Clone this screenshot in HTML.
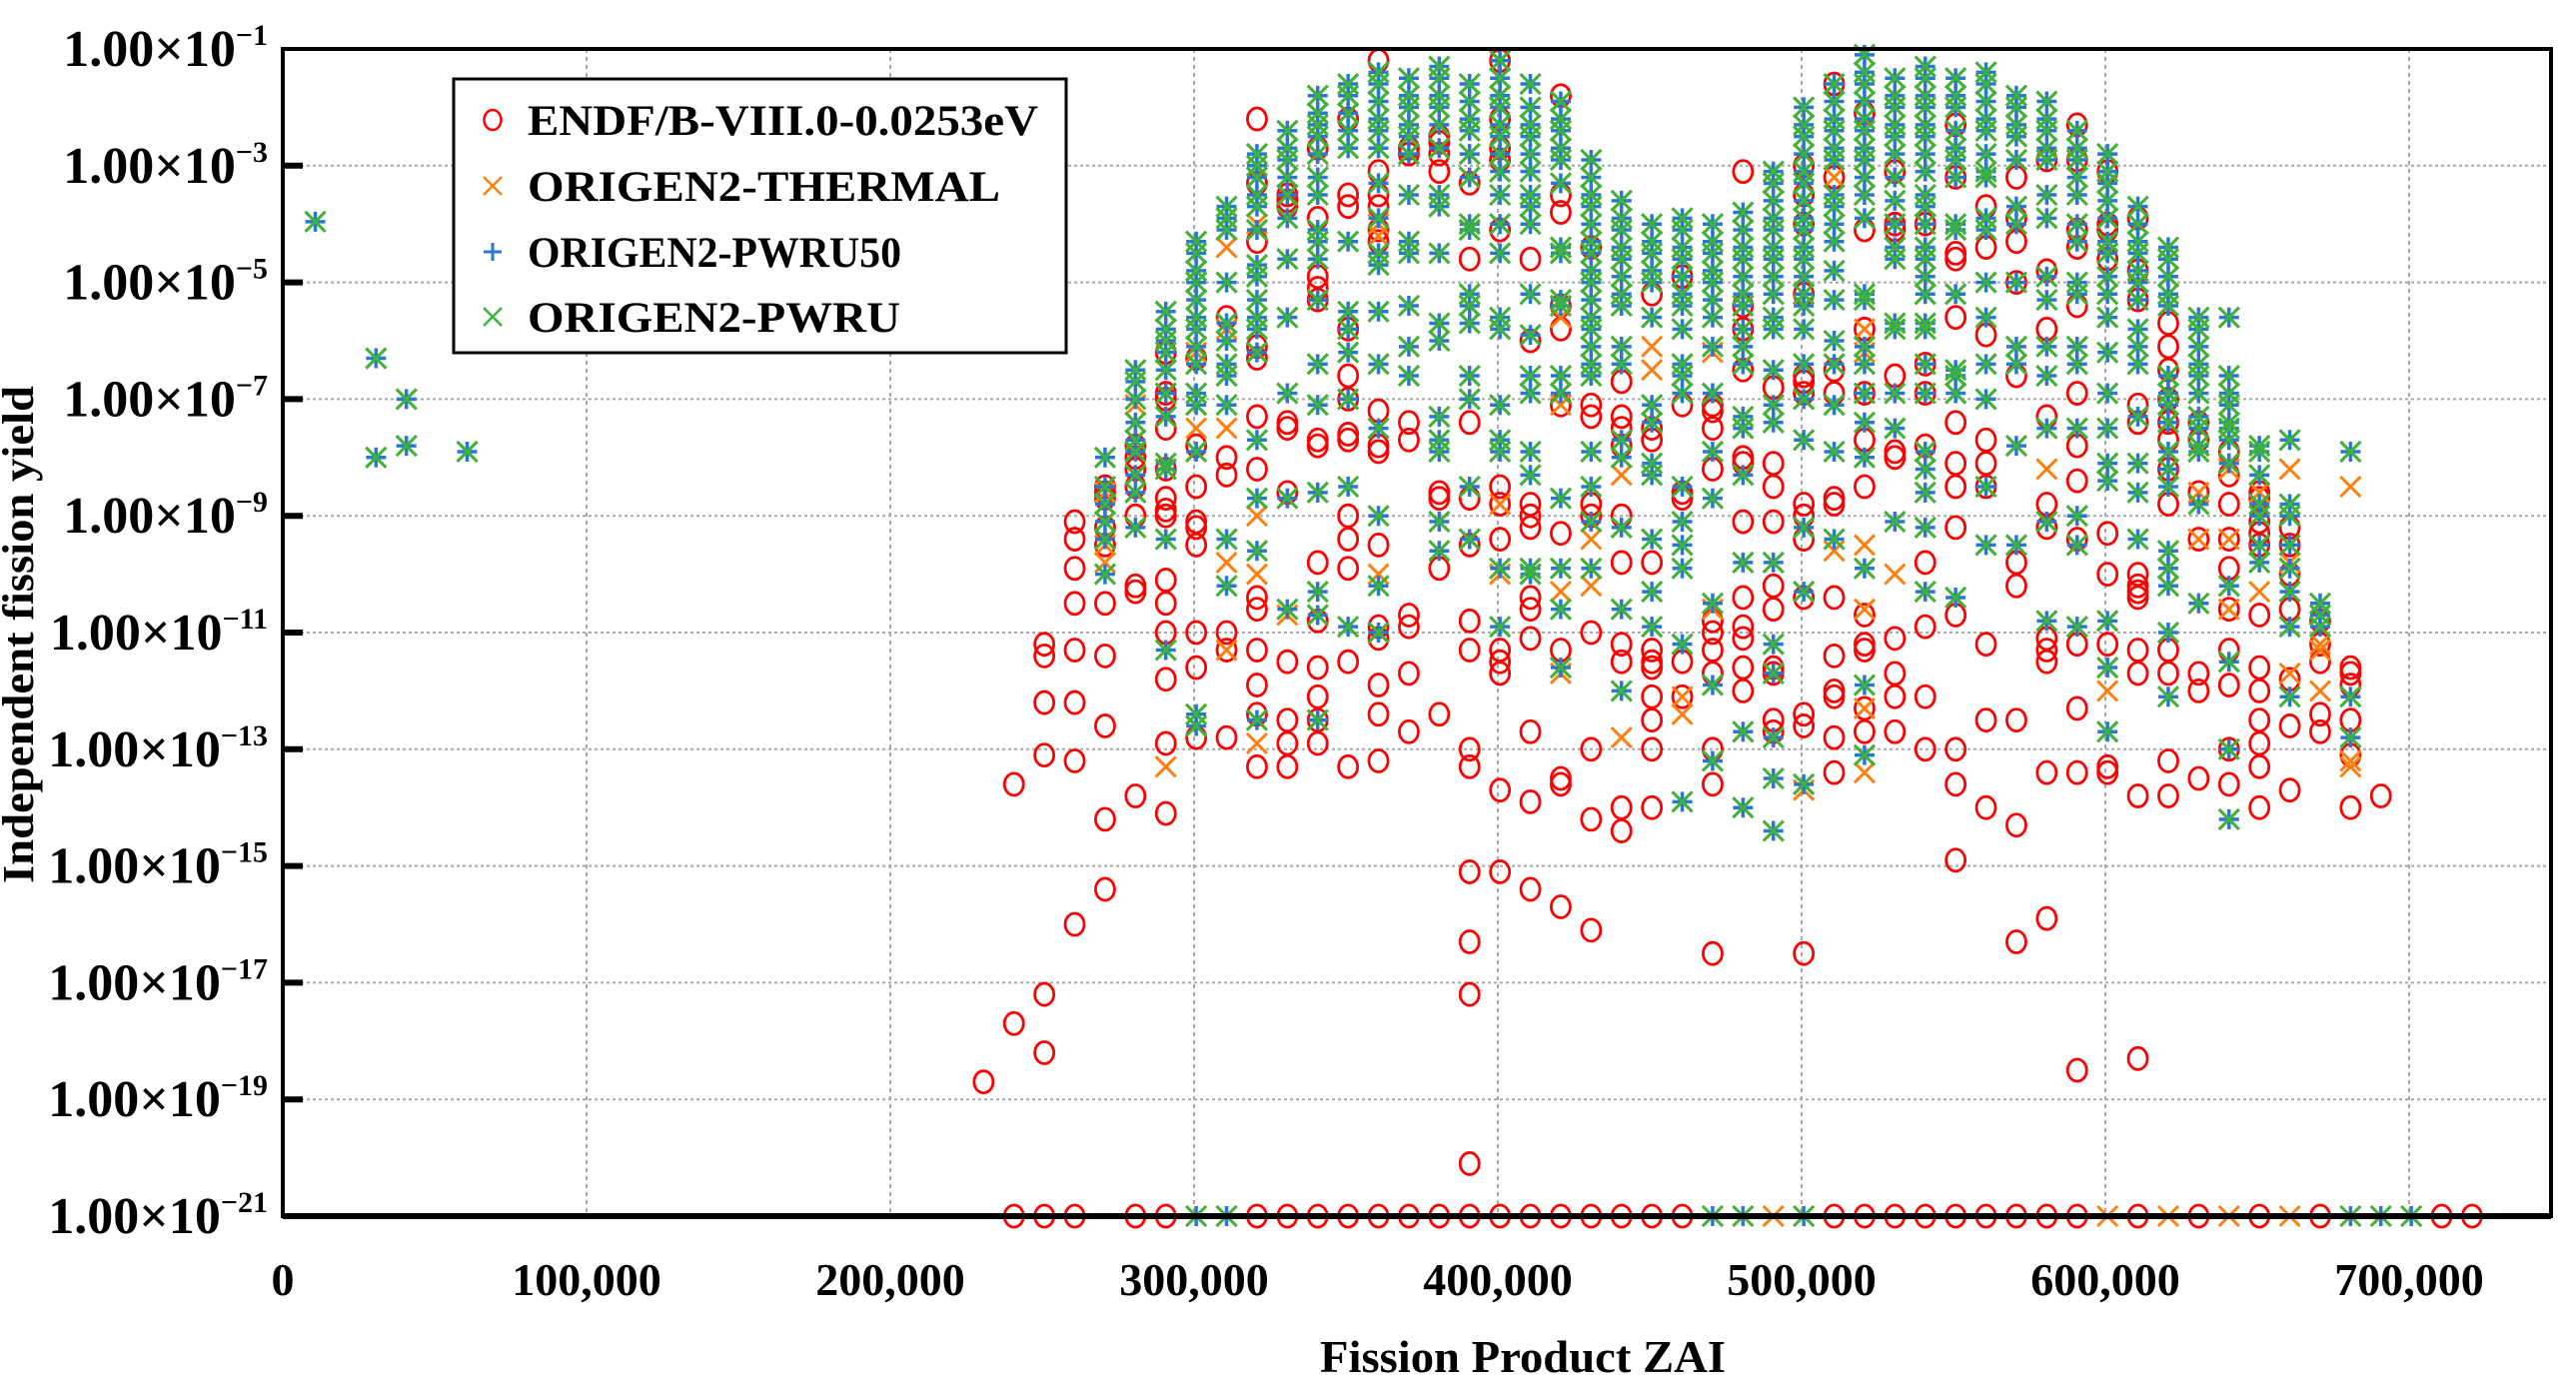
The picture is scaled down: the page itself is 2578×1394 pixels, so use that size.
<!DOCTYPE html>
<html><head><meta charset="utf-8"><title>Independent fission yield</title>
<style>
html,body{margin:0;padding:0;background:#fff;}
svg{display:block;}
text{font-family:"Liberation Serif","Times New Roman",serif;font-weight:bold;fill:#000;}
</style></head>
<body>
<svg id="chart" width="2578" height="1394" viewBox="0 0 2578 1394" xmlns="http://www.w3.org/2000/svg">
<rect x="0" y="0" width="2578" height="1394" fill="#fff"/>
<g id="grid"></g>
<g id="marks"></g>
<rect x="283" y="49" width="2270" height="1168" fill="none" stroke="#000" stroke-width="4"/>
<g id="axes"></g>
<text x="33" y="635" font-size="44" text-anchor="middle" transform="rotate(-90 33 635)" textLength="498" lengthAdjust="spacingAndGlyphs">Independent fission yield</text>
<text x="1524" y="1373" font-size="46" text-anchor="middle" textLength="406" lengthAdjust="spacingAndGlyphs">Fission Product ZAI</text>
<g>
  <rect x="454" y="79" width="613" height="274" fill="#fff" stroke="#000" stroke-width="3"/>
  <g>
    <ellipse cx="493" cy="120" rx="8.5" ry="10" fill="none" stroke="#ff0000" stroke-width="2.5"/>
    <text x="528" y="135" font-size="43" textLength="511" lengthAdjust="spacingAndGlyphs">ENDF/B-VIII.0-0.0253eV</text>
  </g>
  <g>
    <path d="M484,177 L502,195 M502,177 L484,195" stroke="#ff7f0e" stroke-width="2.5"/>
    <text x="528" y="201" font-size="43" textLength="473" lengthAdjust="spacingAndGlyphs">ORIGEN2-THERMAL</text>
  </g>
  <g>
    <path d="M484,252 L502,252 M493,243 L493,261" stroke="#2a78d0" stroke-width="3"/>
    <text x="528" y="267" font-size="43" textLength="374" lengthAdjust="spacingAndGlyphs">ORIGEN2-PWRU50</text>
  </g>
  <g>
    <path d="M484,308 L502,326 M502,308 L484,326" stroke="#3cb43c" stroke-width="2.5"/>
    <text x="528" y="332" font-size="43" textLength="373" lengthAdjust="spacingAndGlyphs">ORIGEN2-PWRU</text>
  </g>
</g>
</svg>
<script>
// ---- data (log10 of independent fission yield; -21 = zero/floor) ----
const xTickValues = [0,100000,200000,300000,400000,500000,600000,700000];
const xTickLabels = ["0","100,000","200,000","300,000","400,000","500,000","600,000","700,000"];
const yTickExps = [-1,-3,-5,-7,-9,-11,-13,-15,-17,-19,-21];
const zCols = [1,3,4,6,23,24,25,26,27,28,29,30,31,32,33,34,35,36,37,38,39,40,41,42,43,44,45,46,47,48,49,50,51,52,53,54,55,56,57,58,59,60,61,62,63,64,65,66,67,68,69,70,71,72];
const endfLog = [
[],[],[],[],
[-18.7],
[-13.6,-17.7,-21],
[-11.2,-11.4,-12.2,-13.1,-17.2,-18.2,-21],
[-9.1,-9.4,-9.9,-10.5,-11.3,-12.2,-13.2,-16.0,-21],
[-8.5,-8.6,-8.7,-9.2,-9.5,-10.5,-11.4,-12.6,-14.2,-15.4],
[-7.8,-8.0,-8.2,-8.5,-9.0,-10.2,-10.3,-13.8,-21],
[-6.2,-6.9,-7.0,-7.5,-8.2,-8.7,-8.9,-9.0,-10.1,-10.5,-11.0,-11.8,-12.9,-14.1,-21],
[-6.3,-7.8,-8.5,-9.1,-9.2,-9.5,-11.0,-11.6,-12.8],
[-5.6,-8.0,-8.3,-11.0,-11.3,-12.8],
[-2.2,-3.3,-4.3,-6.1,-6.3,-7.3,-8.2,-10.4,-10.6,-11.3,-11.9,-12.4,-13.3,-21],
[-3.5,-3.6,-3.7,-7.4,-7.5,-8.6,-11.5,-12.5,-12.9,-13.3,-21],
[-2.7,-3.9,-4.9,-5.1,-5.3,-7.7,-7.8,-9.8,-10.8,-11.6,-12.1,-12.5,-12.9,-21],
[-2.2,-3.5,-3.7,-5.8,-6.6,-7.0,-7.6,-7.7,-9.0,-9.4,-9.9,-11.5,-13.3,-21],
[-1.2,-3.1,-3.5,-3.7,-4.1,-4.3,-7.2,-7.8,-7.9,-9.5,-10.9,-11.1,-11.9,-12.4,-13.2,-21],
[-2.7,-2.8,-7.4,-7.7,-10.7,-10.9,-11.7,-12.7,-21],
[-2.5,-2.6,-2.8,-3.1,-8.6,-8.7,-9.9,-12.4,-21],
[-3.3,-4.6,-7.4,-8.7,-9.5,-10.8,-11.3,-13.0,-13.3,-15.1,-16.3,-17.2,-20.1,-21],
[-1.2,-2.2,-2.7,-2.9,-4.1,-8.5,-8.8,-9.4,-11.3,-11.5,-11.7,-13.7,-15.1,-21],
[-4.6,-6.0,-8.8,-9.0,-9.2,-10.4,-10.6,-11.1,-12.7,-13.9,-15.4,-21],
[-1.8,-3.5,-3.8,-5.4,-5.8,-7.1,-9.3,-11.3,-13.5,-13.6,-15.7,-21],
[-4.4,-7.1,-7.3,-8.8,-9.0,-11.0,-13.0,-14.2,-16.1,-21],
[-6.7,-7.3,-7.5,-7.8,-9.0,-9.8,-11.2,-11.5,-14.0,-14.4,-21],
[-5.2,-7.5,-7.7,-9.8,-11.3,-11.5,-11.6,-12.1,-12.5,-13.0,-14.0,-21],
[-4.9,-7.1,-8.6,-8.7,-11.5,-12.1,-21],
[-7.1,-7.2,-7.5,-8.2,-10.8,-11.0,-11.3,-11.7,-13.0,-13.6,-16.5],
[-3.1,-5.4,-5.8,-6.5,-8.0,-8.1,-9.1,-10.4,-10.9,-11.1,-11.6,-12.0],
[-6.8,-8.1,-8.5,-9.1,-10.2,-10.6,-11.6,-11.7,-12.5,-12.7],
[-3.0,-3.5,-4.0,-5.2,-6.6,-6.7,-6.9,-8.8,-9.0,-9.4,-10.4,-12.4,-12.6,-16.5],
[-1.6,-3.2,-6.5,-6.9,-8.7,-8.8,-10.4,-11.4,-12.0,-12.1,-12.8,-13.4,-21],
[-2.1,-4.1,-5.8,-6.9,-7.7,-8.5,-10.7,-11.2,-11.3,-12.3,-12.7,-21],
[-3.1,-4.0,-4.1,-6.6,-7.9,-8.0,-11.1,-11.7,-12.1,-12.7,-21],
[-4.0,-6.4,-6.9,-7.8,-9.8,-10.9,-12.1,-13.0,-21],
[-2.3,-3.2,-4.5,-4.6,-5.6,-7.4,-8.1,-8.5,-9.2,-10.7,-13.0,-13.6,-14.9,-21],
[-3.7,-4.4,-5.9,-7.7,-8.1,-8.5,-11.2,-12.5,-14.0,-21],
[-3.2,-3.9,-4.3,-5.0,-6.6,-9.8,-10.2,-12.5,-14.3,-16.3,-21],
[-2.9,-4.8,-5.8,-7.3,-8.8,-9.2,-11.1,-11.3,-11.5,-13.4,-15.9,-21],
[-2.3,-2.9,-4.1,-4.4,-5.4,-6.9,-7.8,-8.4,-9.4,-11.2,-12.3,-13.4,-18.5,-21],
[-3.1,-4.0,-4.1,-4.6,-9.3,-10.0,-11.2,-13.3,-13.4],
[-3.9,-4.8,-5.3,-7.1,-7.4,-10.0,-10.2,-10.3,-10.4,-11.3,-11.7,-13.8,-18.3,-21],
[-5.7,-6.1,-6.5,-7.0,-7.4,-7.7,-8.2,-8.8,-11.3,-11.7,-13.2,-13.8],
[-7.4,-7.7,-8.6,-9.4,-11.7,-12.0,-13.5,-21],
[-7.9,-8.3,-8.8,-9.4,-9.9,-10.6,-11.3,-11.9,-13.0,-13.6],
[-8.6,-8.7,-9.1,-9.3,-9.5,-10.7,-11.6,-12.0,-12.5,-12.9,-13.3,-14.0,-21],
[-9.2,-9.5,-10.0,-10.6,-11.8,-12.6,-13.7],
[-10.8,-11.2,-11.5,-12.4,-12.7,-21],
[-11.6,-11.7,-11.9,-12.5,-13.1,-14.0],
[-13.8],
[],
[-21],
[-21]
];
const pwru50Log = [
[-3.96],[-6.3,-8.0],[-7.0,-7.8],[-7.9],
[],[],[],[],
[-8.0,-8.5,-8.8,-9.1,-9.4,-10.0],
[-6.5,-6.7,-7.0,-7.4,-7.7,-7.9,-8.3,-8.6,-9.2],
[-5.5,-5.8,-6.0,-6.2,-6.5,-6.9,-7.3,-8.1,-8.2,-9.4,-11.3],
[-4.3,-4.5,-4.8,-5.0,-5.3,-5.6,-5.8,-6.1,-6.4,-6.9,-7.1,-7.9,-12.4,-12.6,-21],
[-3.7,-3.9,-4.1,-5.0,-5.7,-6.0,-6.4,-6.6,-7.1,-9.4,-10.2,-21],
[-2.8,-3.0,-3.2,-3.5,-3.7,-4.1,-4.7,-4.9,-5.3,-5.6,-5.8,-6.2,-7.7,-8.7,-9.6,-12.5],
[-2.4,-2.7,-2.9,-3.2,-3.5,-3.9,-4.6,-5.6,-6.9,-8.7,-10.6],
[-1.8,-2.1,-2.3,-2.5,-2.8,-3.2,-3.5,-4.1,-4.3,-4.6,-5.3,-6.4,-7.1,-8.6,-10.3,-10.7,-12.5],
[-1.6,-1.8,-2.1,-2.4,-2.7,-4.3,-5.5,-5.8,-6.2,-7.0,-8.5,-10.9],
[-1.4,-1.6,-1.9,-2.2,-2.4,-2.7,-3.3,-3.9,-4.5,-4.7,-5.5,-6.4,-7.5,-9.0,-10.2,-11.0],
[-1.5,-1.8,-2.0,-2.3,-2.5,-2.8,-3.5,-4.3,-4.5,-5.4,-6.1,-6.6],
[-1.3,-1.5,-1.8,-2.0,-2.3,-2.7,-3.5,-3.7,-4.5,-5.7,-6.0,-7.3,-7.7,-7.9,-9.1,-9.6],
[-1.6,-1.9,-2.2,-2.4,-2.8,-3.2,-4.0,-4.1,-5.2,-5.4,-5.7,-6.6,-7.0,-8.5,-9.4],
[-1.2,-1.5,-1.8,-2.0,-2.3,-2.5,-2.8,-3.1,-3.5,-4.0,-4.5,-5.6,-5.8,-7.1,-7.7,-7.9,-9.9,-10.9],
[-1.6,-2.0,-2.3,-2.5,-2.8,-3.1,-3.5,-3.7,-4.0,-5.2,-5.9,-6.6,-6.9,-7.9,-8.3,-9.9,-10.0],
[-1.9,-2.2,-2.4,-2.7,-2.9,-3.3,-4.4,-4.5,-5.3,-5.4,-6.6,-6.9,-8.7,-9.9,-10.6,-11.6],
[-2.9,-3.2,-3.5,-3.7,-4.0,-4.3,-4.5,-4.8,-5.0,-5.3,-5.6,-5.8,-6.1,-6.4,-6.6,-7.9,-8.5,-9.1,-9.9],
[-3.6,-3.9,-4.1,-4.4,-4.6,-4.9,-5.2,-5.4,-6.1,-6.4,-7.7,-8.0,-9.2,-10.6,-12.0],
[-4.0,-4.3,-4.5,-4.8,-5.0,-5.6,-7.1,-7.4,-8.1,-8.3,-9.4,-10.3,-10.9],
[-3.9,-4.1,-4.4,-4.6,-4.9,-5.2,-5.4,-5.8,-6.4,-6.6,-6.9,-8.5,-9.1,-9.5,-9.9,-11.2,-13.9],
[-4.0,-4.3,-4.5,-4.8,-5.0,-5.3,-5.6,-6.1,-6.9,-7.9,-8.7,-10.5,-11.9,-13.2,-21],
[-3.8,-4.1,-4.4,-4.6,-4.9,-5.2,-5.4,-5.8,-6.1,-6.4,-7.3,-7.5,-8.3,-9.8,-12.7,-14.0,-21],
[-3.1,-3.3,-3.6,-3.9,-4.1,-4.4,-4.6,-4.9,-5.2,-5.6,-5.8,-6.5,-7.1,-7.4,-9.8,-11.2,-11.7,-12.8,-13.5,-14.4],
[-2.0,-2.3,-2.5,-2.8,-3.1,-3.3,-3.6,-3.9,-4.1,-4.4,-4.6,-4.9,-5.2,-5.4,-5.8,-6.4,-7.0,-7.7,-9.2,-10.3,-13.6,-21],
[-1.6,-1.9,-2.2,-2.4,-2.7,-2.9,-3.5,-3.7,-4.0,-4.3,-4.8,-5.3,-6.0,-6.4,-7.1,-7.9,-9.4],
[-1.1,-1.4,-1.6,-1.9,-2.2,-2.4,-2.7,-2.9,-3.2,-3.5,-3.9,-5.2,-5.3,-6.1,-6.4,-6.9,-7.4,-8.0,-9.9,-11.9,-13.1],
[-1.5,-1.8,-2.0,-2.3,-2.5,-2.8,-3.2,-3.6,-4.0,-4.4,-4.6,-5.7,-5.8,-6.9,-7.5,-9.1],
[-1.3,-1.5,-1.8,-2.0,-2.3,-2.5,-2.8,-3.1,-3.5,-3.7,-4.0,-4.4,-4.6,-4.9,-5.2,-5.7,-5.8,-6.4,-6.9,-7.9,-8.2,-8.6,-9.2,-10.3],
[-1.5,-1.8,-2.0,-2.4,-2.7,-2.9,-3.2,-4.0,-4.1,-5.2,-6.5,-6.6,-6.9,-10.4],
[-1.4,-1.6,-1.9,-2.2,-2.4,-2.8,-3.1,-3.2,-3.9,-4.1,-5.0,-5.6,-6.4,-7.0,-8.5,-9.5],
[-1.8,-2.0,-2.3,-2.5,-2.9,-3.7,-4.0,-5.0,-6.1,-6.4,-7.8,-9.5],
[-1.9,-2.2,-2.4,-2.7,-2.9,-3.5,-3.9,-4.9,-5.3,-6.1,-6.6,-7.5,-9.1,-10.8],
[-2.4,-2.7,-2.9,-3.2,-3.5,-4.0,-4.3,-5.0,-5.2,-6.1,-6.4,-7.5,-9.0,-9.5,-10.9],
[-2.8,-3.1,-3.3,-3.6,-3.9,-4.3,-4.5,-4.9,-5.2,-5.6,-6.2,-6.9,-7.5,-8.1,-8.4,-10.8,-11.6,-12.7],
[-3.7,-4.0,-4.3,-4.5,-4.8,-5.0,-5.3,-5.8,-6.1,-6.4,-7.3,-8.1,-8.6,-9.4],
[-4.4,-4.6,-4.9,-5.2,-5.4,-6.6,-6.9,-7.1,-7.4,-7.9,-8.2,-8.5,-9.6,-9.9,-10.2,-11.0,-12.1],
[-5.6,-5.8,-6.1,-6.4,-6.6,-6.9,-7.3,-7.5,-7.8,-7.9,-8.8,-10.5],
[-5.6,-6.6,-6.9,-7.1,-7.4,-7.5,-7.7,-8.1,-10.2,-11.5,-13.0,-14.2],
[-7.8,-7.9,-8.3,-8.8,-9.0,-9.5,-9.8],
[-7.7,-8.8,-9.0,-9.5,-9.9,-10.3,-10.9,-12.1],
[-10.5,-10.7,-10.9],
[-7.9,-12.1,-12.8,-21],
[-21],
[-21],
[],
[]
];
// ORIGEN2-PWRU values coincide with ORIGEN2-PWRU50 on this scale
const pwruLog = pwru50Log;
// ORIGEN2-THERMAL points that differ from the PWRU libraries
const thermalExtraLog = [
[],[],[],[],[],[],[],[],
[-8.6,-8.8,-9.5,-9.8],
[-7.1,-7.9],
[-13.3],
[-6.2,-7.5,-7.9],
[-4.1,-4.4,-5.8,-7.5,-9.8,-11.3],
[-3.2,-3.5,-4.0,-5.8,-9.0,-10.0,-12.9],
[-3.5,-10.7],
[],[],
[-4.0,-4.2,-10.0],
[],[],[],
[-8.8,-10.0],
[],
[-4.4,-5.6,-7.1,-10.3,-11.7],
[-9.4,-10.2],
[-8.3,-12.8],
[-6.1,-6.5],
[-12.1,-12.4],
[-6.2,-10.6],
[],
[-21],
[-13.7],
[-3.2,-6.4,-9.6],
[-5.8,-6.2,-9.5,-10.6,-12.3,-13.4],
[-10.0],
[],[],[],[],
[-8.2],
[],
[-12.0,-21],
[],
[-9.9,-21],
[-8.6,-9.4],
[-8.2,-9.4,-10.6,-21],
[-8.6,-10.3],
[-8.2,-9.8,-9.9,-11.7,-21],
[-11.2,-11.3,-12.0],
[-8.5,-13.2,-13.3],
[],[],[],[]
];

// ---- axis functions ----
const PL=283, PR=2553, PT=49, PB=1217;
const X_MAX = 746700;
function xScale(v){ return PL + v/X_MAX*(PR-PL); }
function yScale(e){ return PT + (-1 - e)/20*(PB-PT); }
function colX(z){ return z*10000 + 700; }

const NS="http://www.w3.org/2000/svg";
function mk(tag, attrs, parent){
  const el=document.createElementNS(NS,tag);
  for(const k in attrs) el.setAttribute(k,attrs[k]);
  parent.appendChild(el); return el;
}
const grid=document.getElementById('grid');
const axes=document.getElementById('axes');
const marks=document.getElementById('marks');

yTickExps.forEach(e=>{
  const y=yScale(e);
  if(e!==-1 && e!==-21){
    const g=mk('line',{x1:PL,x2:PR,y1:y,y2:y,stroke:'#a8a8a8','stroke-width':2,'stroke-dasharray':'3,3'},grid);
    
    
    const t=mk('line',{x1:PL,x2:PL+20,y1:y,y2:y,stroke:'#000','stroke-width':6},axes);
    
    
  }
  const tx=mk('text',{x:268,y:y+17,'font-size':52,'text-anchor':'end'},axes);
  
  
  const base=document.createElementNS(NS,'tspan');
  base.textContent='1.00×10';
  tx.appendChild(base);
  const sup=document.createElementNS(NS,'tspan');
  sup.setAttribute('dy','-21'); sup.setAttribute('font-size','30');
  sup.textContent='\u2212'+(-e);
  tx.appendChild(sup);
});
xTickValues.forEach((v,i)=>{
  const x=xScale(v);
  if(v>0){
    const g=mk('line',{x1:x,x2:x,y1:PT,y2:PB,stroke:'#a8a8a8','stroke-width':2,'stroke-dasharray':'4,4'},grid);
    
    
  }
  const t=mk('text',{x:x,y:1296,'font-size':46,'text-anchor':'middle'},axes);
  
  
  t.textContent=xTickLabels[i];
});

const R=10;
function circle(x,y){
  const c=mk('ellipse',{cx:x,cy:y,rx:9.5,ry:11,fill:'none',stroke:'#ff0000','stroke-width':2.8},marks);
  
  
}
function cross(x,y,color,name){
  const p=mk('path',{d:`M${x-R},${y-R}L${x+R},${y+R}M${x+R},${y-R}L${x-R},${y+R}`,stroke:color,'stroke-width':3,fill:'none'},marks);
  
  
}
function plus(x,y){
  const p=mk('path',{d:`M${x-R},${y}L${x+R},${y}M${x},${y-R}L${x},${y+R}`,stroke:'#2a78d0','stroke-width':3.5,fill:'none'},marks);
  
  
}
zCols.forEach((z,i)=>{
  const x=xScale(colX(z));
  endfLog[i].forEach(e=>circle(x,yScale(e)));
});
zCols.forEach((z,i)=>{
  const x=xScale(colX(z));
  pwru50Log[i].forEach(e=>cross(x,yScale(e),'#ff7f0e','thermal-point'));
  thermalExtraLog[i].forEach(e=>cross(x,yScale(e),'#ff7f0e','thermal-point'));
});
zCols.forEach((z,i)=>{
  const x=xScale(colX(z));
  pwru50Log[i].forEach(e=>plus(x,yScale(e)));
});
zCols.forEach((z,i)=>{
  const x=xScale(colX(z));
  pwruLog[i].forEach(e=>cross(x,yScale(e),'#3cb43c','pwru-point'));
});
const bl=mk('line',{x1:PL,x2:PR,y1:PB,y2:PB,stroke:'#000','stroke-width':6},axes);


</script>
</body></html>
